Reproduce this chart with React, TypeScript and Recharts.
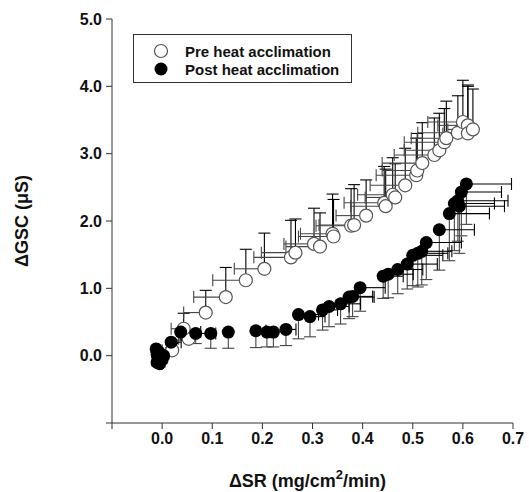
import React from "react";
import { ScatterChart, Scatter, XAxis, YAxis, ErrorBar, Label } from "recharts";

// Pre heat acclimation (open circles): error bars point up (y) and left (x)
const preX = [-0.005, 0.02, 0.053, 0.043, 0.087, 0.127, 0.167, 0.204, 0.257, 0.266, 0.303, 0.315, 0.34, 0.342, 0.377, 0.383, 0.407, 0.443, 0.446, 0.46, 0.465, 0.485, 0.507, 0.509, 0.519, 0.543, 0.553, 0.563, 0.567, 0.59, 0.6, 0.61, 0.61, 0.62];
const preY = [0.02, 0.08, 0.25, 0.4, 0.64, 0.87, 1.12, 1.29, 1.46, 1.53, 1.66, 1.62, 1.81, 1.77, 1.93, 1.94, 2.08, 2.27, 2.22, 2.39, 2.35, 2.53, 2.68, 2.75, 2.86, 2.98, 3.05, 3.17, 3.23, 3.31, 3.47, 3.42, 3.3, 3.36];
const preErrX = [0.01, 0.02, 0.02, 0.025, 0.044, 0.064, 0.066, 0.06, 0.074, 0.068, 0.06, 0.068, 0.064, 0.07, 0.07, 0.07, 0.06, 0.08, 0.07, 0.07, 0.06, 0.07, 0.08, 0.07, 0.08, 0.08, 0.07, 0.08, 0.07, 0.08, 0.07, 0.06, 0.05, 0.05];
const preErrY = [0.05, 0.1, 0.1, 0.23, 0.33, 0.44, 0.46, 0.53, 0.55, 0.5, 0.53, 0.5, 0.59, 0.55, 0.55, 0.6, 0.53, 0.54, 0.55, 0.55, 0.5, 0.55, 0.55, 0.55, 0.6, 0.55, 0.55, 0.5, 0.55, 0.55, 0.62, 0.6, 0.7, 0.6];

// Post heat acclimation (filled circles): error bars point down (y) and right (x)
const postX = [-0.012, -0.01, -0.008, -0.01, -0.005, 0.0, 0.003, -0.006, 0.018, 0.037, 0.067, 0.097, 0.132, 0.187, 0.209, 0.222, 0.247, 0.272, 0.295, 0.32, 0.333, 0.356, 0.373, 0.38, 0.395, 0.441, 0.451, 0.47, 0.489, 0.5, 0.51, 0.518, 0.527, 0.553, 0.573, 0.583, 0.593, 0.597, 0.607, 0.59];
const postY = [0.1, 0.02, -0.05, -0.1, -0.12, -0.06, 0.0, 0.05, 0.2, 0.35, 0.33, 0.33, 0.35, 0.37, 0.35, 0.35, 0.39, 0.61, 0.58, 0.68, 0.73, 0.77, 0.87, 0.88, 1.01, 1.18, 1.21, 1.28, 1.36, 1.49, 1.52, 1.55, 1.68, 1.87, 2.11, 2.26, 2.22, 2.43, 2.55, 2.3];
const postErrX = [0.005, 0.005, 0.005, 0.005, 0.005, 0.005, 0.005, 0.005, 0.02, 0.04, 0.04, 0.0, 0.0, 0.02, 0.0, 0.0, 0.02, 0.04, 0.03, 0.03, 0.04, 0.04, 0.05, 0.04, 0.05, 0.04, 0.05, 0.05, 0.06, 0.06, 0.06, 0.06, 0.07, 0.07, 0.08, 0.08, 0.09, 0.08, 0.09, 0.1];
const postErrY = [0.05, 0.05, 0.05, 0.05, 0.05, 0.05, 0.05, 0.05, 0.08, 0.12, 0.15, 0.22, 0.24, 0.25, 0.22, 0.22, 0.24, 0.36, 0.3, 0.3, 0.3, 0.3, 0.32, 0.3, 0.35, 0.33, 0.35, 0.36, 0.37, 0.45, 0.5, 0.5, 0.55, 0.6, 0.7, 0.7, 0.7, 0.65, 0.6, 0.6];

const xTicks = [-0.1, 0, 0.1, 0.2, 0.3, 0.4, 0.5, 0.6, 0.7];
const yTicks = [-1, 0, 1, 2, 3, 4, 5];

const preData = preX.map((x, i) => ({ x, y: preY[i], ex: [preErrX[i], 0], ey: [0, preErrY[i]] }));
const postData = postX.map((x, i) => ({ x, y: postY[i], ex: [0, postErrX[i]], ey: [postErrY[i], 0] }));

const font = "'Liberation Sans', Arial, Helvetica, sans-serif";
const tickStyle = { fill: "#111", fontSize: 16, fontWeight: "bold", fontFamily: font };

const OpenDot = (props: any) => (
  <circle cx={props.cx} cy={props.cy} r={6.5} fill="#fff" stroke="#555" strokeWidth={1.2} />
);
const FilledDot = (props: any) => <circle cx={props.cx} cy={props.cy} r={6.5} fill="#000" />;

export default function App() {
  return (
    <div style={{ position: "absolute", left: 0, top: 0, width: 529, height: 492, background: "#fff" }}>
      <ScatterChart width={529} height={492} margin={{ top: 19, right: 16, bottom: 0, left: 0 }}>
        <XAxis
          type="number"
          dataKey="x"
          domain={[-0.1, 0.7]}
          ticks={xTicks}
          allowDataOverflow
          height={69}
          stroke="#333"
          tickSize={6}
          tickMargin={4}
          tick={tickStyle}
          tickFormatter={(v: number) => (v < -0.05 ? "" : v.toFixed(1))}
        >
          <Label
            content={({ viewBox }: any) => (
              <text
                x={viewBox.x + viewBox.width / 2 - 5}
                y={viewBox.y + 64}
                textAnchor="middle"
                fontFamily={font}
                fontWeight="bold"
                fontSize={18}
                fill="#111"
              >
                ΔSR (mg/cm<tspan dy={-8} fontSize={13}>2</tspan>
                <tspan dy={8}>/min)</tspan>
              </text>
            )}
          />
        </XAxis>
        <YAxis
          type="number"
          dataKey="y"
          domain={[-1, 5]}
          ticks={yTicks}
          allowDataOverflow
          width={112}
          stroke="#333"
          tickSize={6}
          tickMargin={4}
          tick={tickStyle}
          tickFormatter={(v: number) => (v < -0.5 ? "" : v.toFixed(1))}
        >
          <Label
            value="ΔGSC (μS)"
            angle={-90}
            position="insideLeft"
            offset={22}
            textAnchor="middle"
            style={{ fontFamily: font, fontWeight: "bold", fontSize: 18, fill: "#111" }}
          />
        </YAxis>
        <Scatter data={preData} shape={OpenDot} isAnimationActive={false}>
          <ErrorBar dataKey="ey" direction="y" width={6} stroke="#000" strokeWidth={1.1} />
          <ErrorBar dataKey="ex" direction="x" width={6} stroke="#444" strokeWidth={1.1} />
        </Scatter>
        <Scatter data={postData} shape={FilledDot} isAnimationActive={false}>
          <ErrorBar dataKey="ey" direction="y" width={6} stroke="#444" strokeWidth={1.1} />
          <ErrorBar dataKey="ex" direction="x" width={6} stroke="#000" strokeWidth={1.1} />
        </Scatter>
      </ScatterChart>
      <div
        style={{
          position: "absolute",
          left: 133,
          top: 34,
          width: 219,
          height: 49,
          border: "1px solid #333",
          fontFamily: font,
          fontWeight: "bold",
          fontSize: 15,
          color: "#111",
          boxSizing: "border-box",
        }}
      >
        {[
          { name: "Pre heat acclimation", open: true },
          { name: "Post heat acclimation", open: false },
        ].map((item, i) => (
          <div key={item.name} style={{ position: "absolute", left: 19, top: 7 + i * 18, height: 18, display: "flex", alignItems: "center" }}>
            <svg width={16} height={16} style={{ marginRight: 16 }}>
              <circle cx={8} cy={8} r={6.5} fill={item.open ? "#fff" : "#000"} stroke={item.open ? "#555" : "none"} strokeWidth={1.2} />
            </svg>
            <span>{item.name}</span>
          </div>
        ))}
      </div>
    </div>
  );
}
